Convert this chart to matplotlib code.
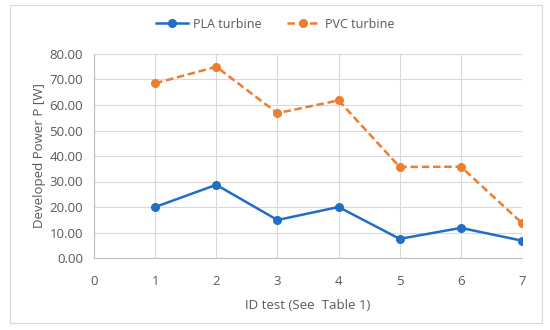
import matplotlib
matplotlib.use("Agg")
import matplotlib.pyplot as plt
from matplotlib.patches import Rectangle

ids = [1, 2, 3, 4, 5, 6, 7]
pla = [20.0, 28.7, 14.9, 20.0, 7.5, 11.8, 6.8]
pvc = [68.5, 75.0, 56.8, 61.8, 35.7, 35.8, 13.7]
xticks = [0, 1, 2, 3, 4, 5, 6, 7]
yticks = [0, 10, 20, 30, 40, 50, 60, 70, 80]

plt.rcParams['font.family'] = ['Open Sans', 'DejaVu Sans']
fig = plt.figure(figsize=(5.5, 3.3), dpi=100)
fig.patches.append(Rectangle((10/550, 1-323/330), 532/550, 318/330, transform=fig.transFigure,
                             fill=False, edgecolor='#d9d9d9', linewidth=0.8))
ax = fig.add_axes([94/550, 1-258/330, 428/550, 204/330])
blue = '#1f6fc5'
orange = '#ed7d31'
ax.plot(ids, pla, color=blue, lw=1.8, marker='o', ms=5.5, label='PLA turbine')
ax.plot(ids, pvc, color=orange, lw=1.8, ls=(0, (3, 1.5)), marker='o', ms=5.5, label='PVC turbine')
ax.set_xlim(0, 7)
ax.set_ylim(0, 80)
ax.set_xticks(xticks)
ax.set_yticks(yticks)
ax.set_yticklabels([f"{v:.2f}" for v in yticks])
ax.grid(True, color='#d9d9d9', lw=0.8)
ax.set_axisbelow(True)
for s in ['top', 'right']:
    ax.spines[s].set_visible(False)
for s in ['left', 'bottom']:
    ax.spines[s].set_color('#bfbfbf')
ax.tick_params(axis='y', length=0, colors='#595959', labelsize=9.5, pad=8)
ax.tick_params(axis='x', length=0, colors='#595959', labelsize=9.5, pad=12)
ax.set_xlabel('ID test (See  Table 1)', color='#595959', fontsize=9.5, labelpad=8)
ax.set_ylabel('Developed Power P [W]', color='#595959', fontsize=9.5, labelpad=2)
ax.legend(loc='center', bbox_to_anchor=(0.5, 1-24/330), bbox_transform=fig.transFigure,
          ncol=2, frameon=False, fontsize=9, handlelength=2.6, handletextpad=0.4,
          columnspacing=2.0, labelcolor='#595959')
fig.savefig('out.png', dpi=100)
